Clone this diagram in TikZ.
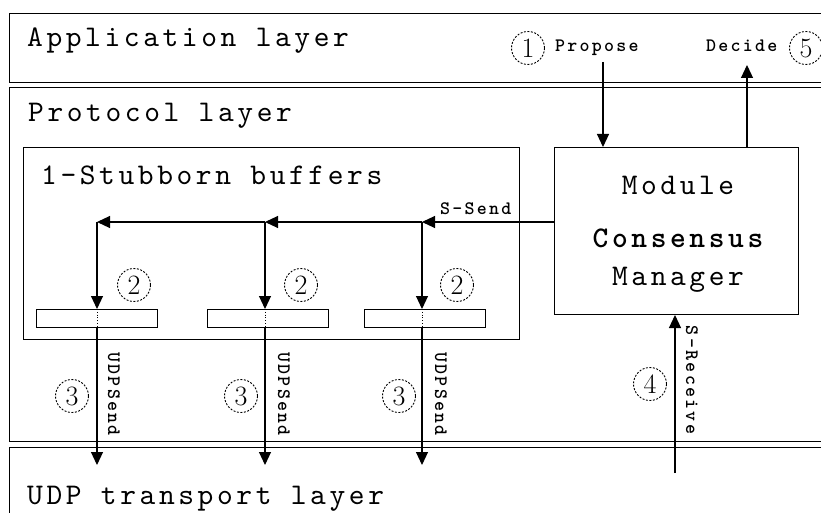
\documentclass[tikz,border=0pt]{standalone}
\usepackage{fontspec}
\usepackage{tikz}
\usetikzlibrary{arrows.meta}
\newfontfamily\monof{lmmono10-regular.otf}[LetterSpace=12,BoldFont=lmmonolt10-bold.otf]
\newfontfamily\monos{lmmonolt10-bold.otf}[LetterSpace=12]
\tikzstyle{layer} = [draw, line width=1.3pt, anchor=north west, inner sep=0pt]
\tikzstyle{box} = [draw, line width=1pt, anchor=north west, inner sep=0pt]
\tikzstyle{buffer} = [draw, line width=0.9pt, anchor=north west, inner sep=0pt,
  minimum width=121pt, minimum height=18pt]
\tikzstyle{big} = [font=\monof\fontsize{30}{32}\selectfont, inner sep=0pt]
\tikzstyle{small} = [font=\monos\fontsize{19}{21}\selectfont, inner sep=0pt]
\tikzstyle{num} = [circle, draw, dash pattern=on 2pt off 1.5pt, line width=0.9pt,
  minimum size=33pt, inner sep=0pt, font=\fontsize{28}{30}\selectfont]
\tikzstyle{arrow} = [line width=1.1pt, -{Triangle[width=12pt,length=13pt]}]

\begin{document}
\begin{tikzpicture}[x=1pt,y=-1pt]
    \useasboundingbox (0,0) rectangle (821,513);
    \node[layer,minimum width=830pt,minimum height=69pt] (app) at (9,13) {};
    \node[layer,minimum width=830pt,minimum height=354pt] (proto) at (9,87) {};
    \node[layer,minimum width=830pt,minimum height=90pt] (udp) at (9,447) {};
    \node[box,minimum width=496pt,minimum height=192pt] (stub) at (23,147) {};
    \node[box,minimum width=244pt,minimum height=167pt] (cmgr) at (554,147) {};

    \node[big,anchor=base west] (applbl) at (27,47) {Application layer};
    \node[big,anchor=base west] (protolbl) at (28,122) {Protocol layer};
    \node[big,anchor=base west] (stublbl) at (41,184) {1-Stubborn buffers};
    \node[big,anchor=base west] (udplbl) at (27,504) {UDP transport layer};
    \node[big,anchor=base] (modlbl) at (678,194) {Module};
    \node[big,anchor=base] (conslbl) at (678,247) {\bfseries Consensus};
    \node[big,anchor=base] (mgrlbl) at (678,285) {Manager};

    \node[buffer] (buf1) at (36,309) {};
    \node[buffer] (buf2) at (207,309) {};
    \node[buffer] (buf3) at (364,309) {};

    \foreach \i/\x in {1/97,2/265,3/422} {
        \coordinate (j\i) at (\x,222);
        \draw[arrow] (j\i) -- (j\i |- buf\i.north);
        \draw[dotted,line width=0.8pt] (j\i |- buf\i.north) -- (j\i |- buf\i.south);
        \draw[arrow] (j\i |- buf\i.south) -- (\x,465);
    }
    \draw[arrow] (cmgr.west |- j3) -- (j3);
    \draw[arrow] (j3) -- (j2);
    \draw[arrow] (j2) -- (j1);

    \coordinate (prop) at (603,62);
    \coordinate (dec) at (747,65);
    \coordinate (rcv) at (675,473);
    \draw[arrow] (prop) -- (prop |- cmgr.north);
    \draw[arrow] (dec |- cmgr.north) -- (dec);
    \draw[arrow] (rcv) -- (rcv |- cmgr.south);

    \node[small,anchor=base west] (proplbl) at (555,52) {Propose};
    \node[small,anchor=base west] (declbl) at (706,52) {Decide};
    \node[small,anchor=base west] (sendlbl) at (440,214) {S-Send};
    \node[small,rotate=-90] (udps1) at (114,394) {UDPSend};
    \node[small,rotate=-90] (udps2) at (284,394) {UDPSend};
    \node[small,rotate=-90] (udps3) at (441,394) {UDPSend};
    \node[small,rotate=-90] (rcvlbl) at (692,380) {S-Receive};

    \node[num] (n1) at (528,48) {1};
    \node[num] (n5) at (806,48) {5};
    \node[num] (n2a) at (134,285) {2};
    \node[num] (n2b) at (301,285) {2};
    \node[num] (n2c) at (457,285) {2};
    \node[num] (n3a) at (72,396) {3};
    \node[num] (n3b) at (241,396) {3};
    \node[num] (n3c) at (399,396) {3};
    \node[num] (n4) at (650,384) {4};
\end{tikzpicture}
\end{document}
